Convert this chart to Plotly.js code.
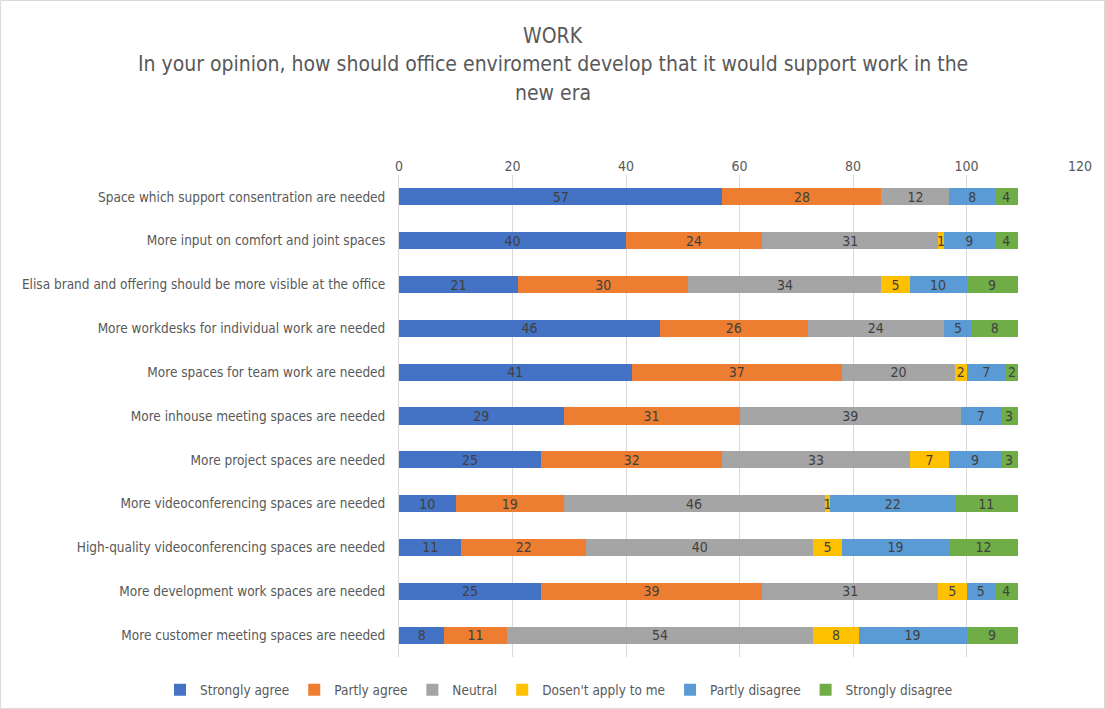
<!DOCTYPE html>
<html>
<head>
<meta charset="utf-8">
<script src="https://cdn.plot.ly/plotly-3.0.1.min.js"></script>
<style>html,body{margin:0;padding:0;background:#fff;}#chart{width:1105px;height:709px;}</style>
</head>
<body>
<div id="chart"></div>
<script>
const categories = [
  "Space which support consentration are needed",
  "More input on comfort and joint spaces",
  "Elisa brand and offering should be more visible at the office",
  "More workdesks for individual work are needed",
  "More spaces for team work are needed",
  "More inhouse meeting spaces are needed",
  "More project spaces are needed",
  "More videoconferencing spaces are needed",
  "High-quality videoconferencing spaces are needed",
  "More development work spaces are needed",
  "More customer meeting spaces are needed"
];
const seriesNames = ["Strongly agree", "Partly agree", "Neutral", "Dosen't apply to me", "Partly disagree", "Strongly disagree"];
const stronglyAgree    = [57, 40, 21, 46, 41, 29, 25, 10, 11, 25, 8];
const partlyAgree      = [28, 24, 30, 26, 37, 31, 32, 19, 22, 39, 11];
const neutral          = [12, 31, 34, 24, 20, 39, 33, 46, 40, 31, 54];
const doesntApply      = [0, 1, 5, 0, 2, 0, 7, 1, 5, 5, 8];
const partlyDisagree   = [8, 9, 10, 5, 7, 7, 9, 22, 19, 5, 19];
const stronglyDisagree = [4, 4, 9, 8, 2, 3, 3, 11, 12, 4, 9];
const colors = ["#4472C4", "#ED7D31", "#A5A5A5", "#FFC000", "#5B9BD5", "#70AD47"];
const allSeries = [stronglyAgree, partlyAgree, neutral, doesntApply, partlyDisagree, stronglyDisagree];
const titleLines = ["WORK", "In your opinion, how should office enviroment develop that it would support work in the", "new era"];

const FONT = "'Liberation Sans Narrow', 'DejaVu Sans Condensed', 'Roboto', sans-serif";

const traces = allSeries.map((vals, i) => ({
  type: 'bar',
  orientation: 'h',
  name: seriesNames[i],
  y: categories,
  x: vals,
  text: vals.map(v => v === 0 ? '' : String(v)),
  textposition: 'inside',
  insidetextanchor: 'middle',
  textangle: 0,
  constraintext: 'none',
  textfont: {family: FONT, size: 14, color: '#404040'},
  marker: {color: colors[i], line: {width: 0}},
  width: 0.39,
  hoverinfo: 'x+name'
}));

const titleY = [36, 64, 93];
const annotations = titleLines.map((t, i) => ({
  text: t,
  xref: 'paper', yref: 'paper',
  x: (553 - 399) / 681,
  y: (657 - titleY[i]) / 482,
  xanchor: 'center', yanchor: 'middle',
  showarrow: false,
  font: {family: FONT, size: 21, color: '#595959'}
}));

const layout = {
  width: 1105,
  height: 709,
  barmode: 'stack',
  paper_bgcolor: '#ffffff',
  plot_bgcolor: '#ffffff',
  margin: {l: 399, r: 25, t: 175, b: 52, autoexpand: false},
  font: {family: FONT, color: '#595959'},
  annotations: annotations,
  xaxis: {
    side: 'top',
    range: [0, 120],
    dtick: 20,
    tick0: 0,
    showgrid: true,
    gridcolor: '#d9d9d9',
    gridwidth: 1,
    zeroline: false,
    showline: false,
    ticks: '',
    tickfont: {family: FONT, size: 14, color: '#595959'},
    fixedrange: true
  },
  yaxis: {
    autorange: 'reversed',
    showgrid: false,
    zeroline: false,
    showline: true,
    linecolor: '#d9d9d9',
    ticks: '',
    ticklabelstandoff: 10,
    tickfont: {family: FONT, size: 13.5, color: '#595959'},
    fixedrange: true
  },
  legend: {
    orientation: 'h',
    xref: 'paper', yref: 'paper',
    x: (160 - 399) / 681, xanchor: 'left',
    y: (657 - 690) / 482, yanchor: 'middle',
    font: {family: FONT, size: 13.5, color: '#595959'},
    traceorder: 'normal',
    itemwidth: 30
  },
  showlegend: true,
  shapes: [{
    type: 'rect', xref: 'paper', yref: 'paper',
    x0: -0.585, x1: 1.036, y0: -0.107, y1: 1.362,
    line: {color: '#d9d9d9', width: 1}, fillcolor: 'rgba(0,0,0,0)', layer: 'below'
  }]
};

Plotly.newPlot('chart', traces, layout, {displayModeBar: false, staticPlot: true});
</script>
</body>
</html>
